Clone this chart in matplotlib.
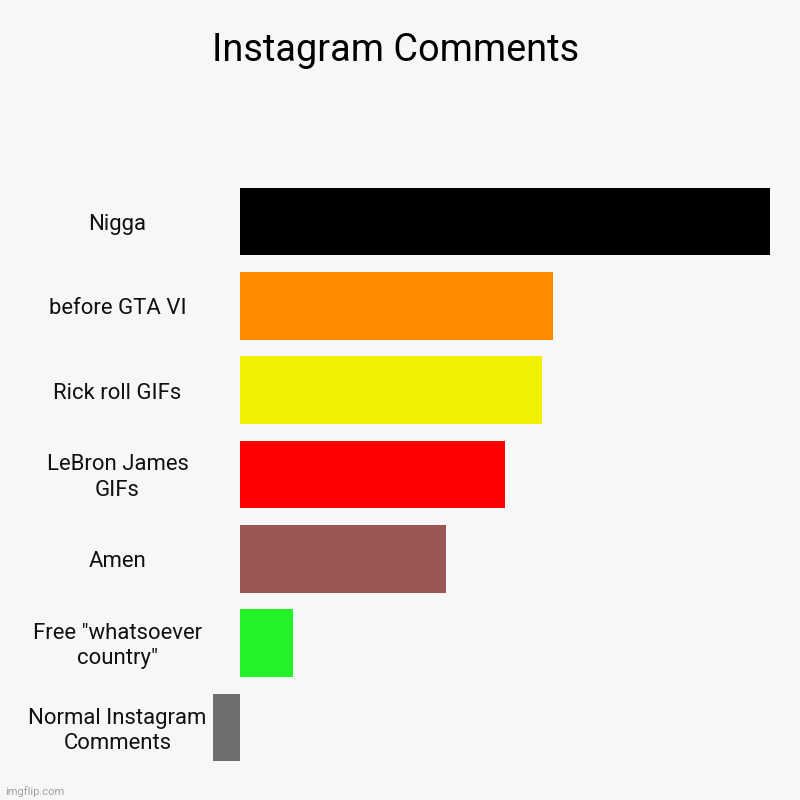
import matplotlib
matplotlib.use("Agg")
import matplotlib.pyplot as plt
from matplotlib.transforms import blended_transform_factory, ScaledTranslation

categories = ["Nigga", "before GTA VI", "Rick roll GIFs", "LeBron James\nGIFs", "Amen",
              "Free \"whatsoever\ncountry\"", "Normal Instagram\nComments"]
values = [100, 59, 57, 50, 39, 10, -5]
colors = ["#000000", "#ff8a00", "#f0f000", "#ff0000", "#9b5656", "#22f22a", "#6e6e6e"]
title = "Instagram Comments"

bg = "#f7f7f7"
plt.rcParams['font.family'] = ['Roboto', 'DejaVu Sans']
fig = plt.figure(figsize=(8, 8), dpi=100, facecolor=bg)
ax = fig.add_axes([213/800, 1 - 769.7/800, (770 - 213)/800, (769.7 - 179.3)/800])
ax.set_facecolor(bg)
ypos = list(range(len(categories)))
ax.barh(ypos, values, height=0.8, color=colors, edgecolor='none')
ax.set_xlim(-5, 100)
ax.set_ylim(len(categories) - 0.5, -0.5)
for s in ax.spines.values():
    s.set_visible(False)
ax.set_xticks([])
ax.set_yticks([])

tr = blended_transform_factory(fig.transFigure, ax.transData) + ScaledTranslation(0, -3/100, fig.dpi_scale_trans)
for y, lab in zip(ypos, categories):
    ax.text(117.5/800, y, lab, transform=tr, ha='center', va='center',
            fontsize=15.9, color='#111111', linespacing=1.25)

fig.text(395.5/800, 1 - 61/800, title, ha='center', va='baseline', fontsize=27.3, color='#000000')
fig.text(5/800, 1 - 795/800, "imgflip.com", ha='left', va='baseline', fontsize=8, color='#a0a0a0')

fig.savefig("out.png", dpi=100, facecolor=bg)
